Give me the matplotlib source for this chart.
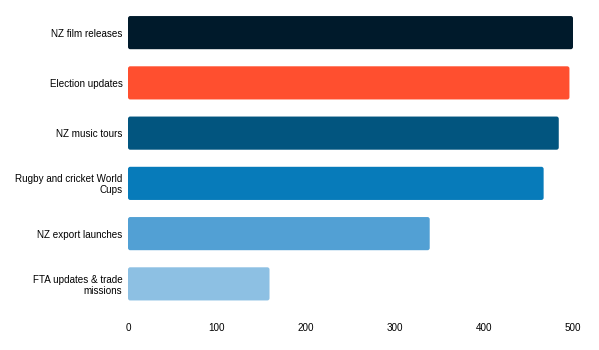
import matplotlib.pyplot as plt
from matplotlib.patches import FancyBboxPatch

plt.rcParams['font.family'] = ['Liberation Sans', 'DejaVu Sans']

categories = ['NZ film releases', 'Election updates', 'NZ music tours',
              'Rugby and cricket World\nCups', 'NZ export launches',
              'FTA updates & trade\nmissions']
values = [500, 496, 484, 467, 339, 159]
colors = ['#001a2b', '#ff4f2f', '#02557f', '#077bba', '#52a0d4', '#8dc0e3']

fig = plt.figure(figsize=(5.99, 3.5), dpi=100)
ax = fig.add_axes([128 / 599, 1 - 309 / 350, 445 / 599, 301.5 / 350])

pos = list(range(len(categories)))
bars = ax.barh(pos, values, height=0.66, color=colors)

# swap the plain bars for slightly rounded ones
for b in bars:
    x, y = b.get_x(), b.get_y()
    w, h = b.get_width(), b.get_height()
    b.set_visible(False)
    ax.add_patch(FancyBboxPatch((x, y), w, h,
                                boxstyle='round,pad=0,rounding_size=2.5',
                                mutation_aspect=0.018,
                                facecolor=b.get_facecolor(), edgecolor='none'))

ax.set_xlim(0, 500)
ax.set_ylim(5.5, -0.5)
ax.set_yticks(pos)
ax.set_yticklabels(categories, fontsize=7.1, linespacing=1.1)
ax.set_xticks([0, 100, 200, 300, 400, 500])
ax.tick_params(axis='x', labelsize=7.1, length=0, pad=10)
ax.tick_params(axis='y', length=0, pad=4)
for s in ax.spines.values():
    s.set_visible(False)

fig.savefig('out.png', dpi=100)
